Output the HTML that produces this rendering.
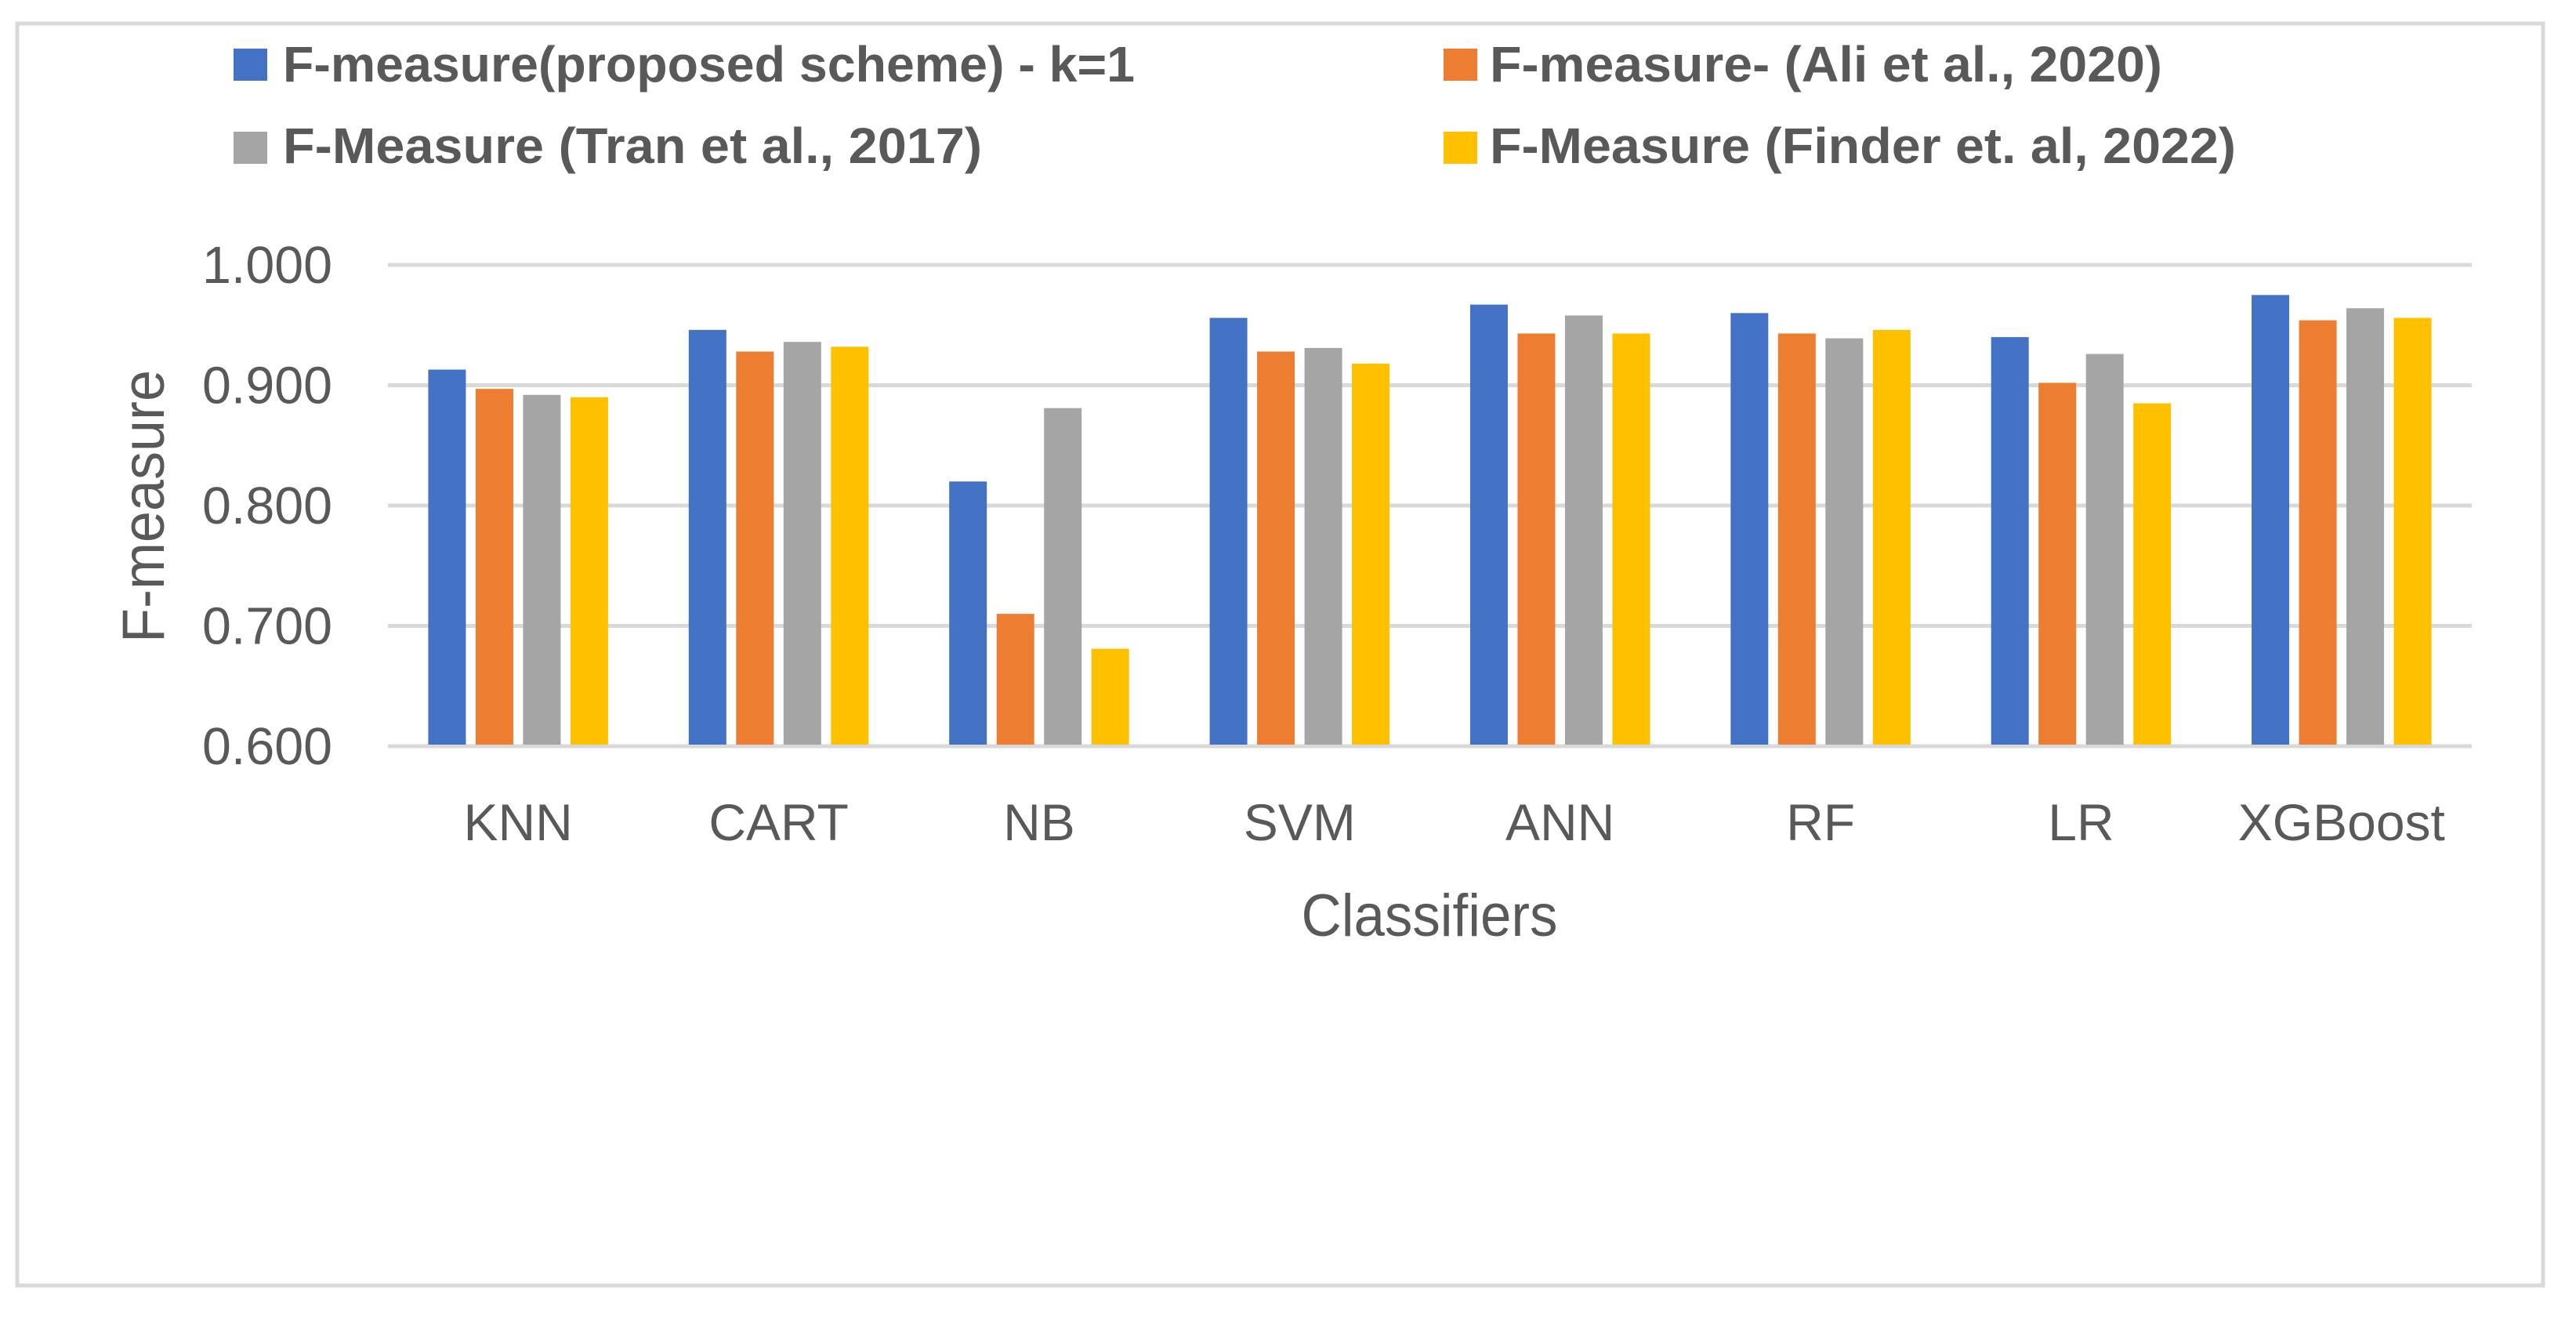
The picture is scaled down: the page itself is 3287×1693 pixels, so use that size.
<!DOCTYPE html>
<html><head><meta charset="utf-8"><style>
html,body{margin:0;padding:0;background:#fff;}
svg{display:block;font-family:"Liberation Sans",sans-serif;}
</style></head><body>
<svg id="chart" width="3287" height="1693" viewBox="0 0 3287 1693">
<rect x="22" y="30" width="3223" height="1610" fill="#fff" stroke="#d9d9d9" stroke-width="5"/>
<g id="legend">
 <g>
  <rect x="298" y="62" width="43" height="41" fill="#4472c4"/>
  <text x="361" y="104" font-size="64" font-weight="bold" fill="#595959" textLength="1087" lengthAdjust="spacingAndGlyphs">F-measure(proposed scheme) - k=1</text>
 </g>
 <g>
  <rect x="1842" y="62" width="43" height="41" fill="#ed7d31"/>
  <text x="1901" y="104" font-size="64" font-weight="bold" fill="#595959" textLength="858" lengthAdjust="spacingAndGlyphs">F-measure- (Ali et al., 2020)</text>
 </g>
 <g>
  <rect x="298" y="168" width="43" height="41" fill="#a5a5a5"/>
  <text x="361" y="208" font-size="64" font-weight="bold" fill="#595959" textLength="892" lengthAdjust="spacingAndGlyphs">F-Measure (Tran et al., 2017)</text>
 </g>
 <g>
  <rect x="1842" y="168" width="43" height="41" fill="#ffc000"/>
  <text x="1901" y="208" font-size="64" font-weight="bold" fill="#595959" textLength="952" lengthAdjust="spacingAndGlyphs">F-Measure (Finder et. al, 2022)</text>
 </g>
</g>
<g id="grid"></g>
<g id="bars"></g>
<g id="labels"></g>
<text transform="translate(209,646) rotate(-90)" text-anchor="middle" font-size="76" fill="#595959" textLength="348" lengthAdjust="spacingAndGlyphs">F-measure</text>
<text x="1824" y="1194" text-anchor="middle" font-size="76" fill="#595959" textLength="327" lengthAdjust="spacingAndGlyphs">Classifiers</text>
</svg>
<script>
const categories = ["KNN","CART","NB","SVM","ANN","RF","LR","XGBoost"];
const proposed = [0.913,0.946,0.820,0.956,0.967,0.960,0.940,0.975];
const ali      = [0.897,0.928,0.710,0.928,0.943,0.943,0.902,0.954];
const tran     = [0.892,0.936,0.881,0.931,0.958,0.939,0.926,0.964];
const finder   = [0.890,0.932,0.681,0.918,0.943,0.946,0.885,0.956];
const yTicks = [0.6,0.7,0.8,0.9,1.0];
const yTickLabels = ["0.600","0.700","0.800","0.900","1.000"];

const NS = "http://www.w3.org/2000/svg";
const plotL = 495, plotR = 3154, plotT = 338, plotB = 952;
const yMin = 0.6, yMax = 1.0;
const y = v => plotB - (v - yMin) / (yMax - yMin) * (plotB - plotT);
const groupW = (plotR - plotL) / categories.length;
const barW = 48, barStep = 60.5, groupPad = (groupW - (3 * barStep + barW)) / 2;
const x = (i, s) => plotL + i * groupW + groupPad + s * barStep;

const grid = document.getElementById('grid');
const labels = document.getElementById('labels');
yTicks.forEach((t, k) => {
  const ln = document.createElementNS(NS, 'line');
  ln.setAttribute('x1', plotL); ln.setAttribute('x2', plotR);
  ln.setAttribute('y1', y(t)); ln.setAttribute('y2', y(t));
  ln.setAttribute('stroke', '#d9d9d9'); ln.setAttribute('stroke-width', '5');
  
  
  grid.appendChild(ln);
  const tx = document.createElementNS(NS, 'text');
  tx.setAttribute('x', 424); tx.setAttribute('y', y(t) + 23);
  tx.setAttribute('text-anchor', 'end'); tx.setAttribute('font-size', '67');
  tx.setAttribute('fill', '#595959');
  tx.setAttribute('textLength', '166'); tx.setAttribute('lengthAdjust', 'spacingAndGlyphs');
  tx.textContent = yTickLabels[k];
  
  
  labels.appendChild(tx);
});

const series = [proposed, ali, tran, finder];
const colors = ['#4472c4','#ed7d31','#a5a5a5','#ffc000'];
const snames = ['proposed','ali','tran','finder'];
const bars = document.getElementById('bars');
categories.forEach((c, i) => {
  series.forEach((arr, s) => {
    const r = document.createElementNS(NS, 'rect');
    r.setAttribute('x', x(i, s)); r.setAttribute('width', barW);
    r.setAttribute('y', y(arr[i])); r.setAttribute('height', plotB - 2 - y(arr[i]));
    r.setAttribute('fill', colors[s]);
    
    
    bars.appendChild(r);
  });
  const t = document.createElementNS(NS, 'text');
  t.setAttribute('x', plotL + (i + 0.5) * groupW); t.setAttribute('y', 1072);
  t.setAttribute('text-anchor', 'middle'); t.setAttribute('font-size', '66');
  t.setAttribute('fill', '#595959');
  t.textContent = c;
  
  
  labels.appendChild(t);
});
</script>
</body></html>
